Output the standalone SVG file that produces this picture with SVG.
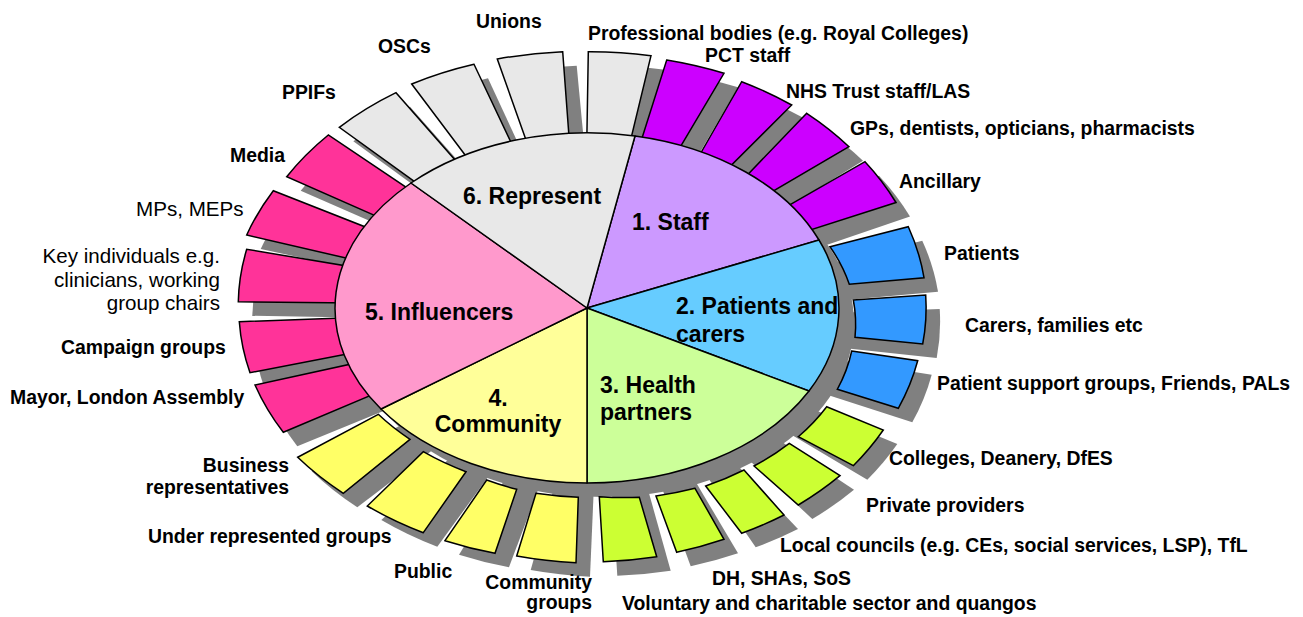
<svg xmlns="http://www.w3.org/2000/svg" width="1303" height="617" viewBox="0 0 1303 617">
<style>
.sh{fill:#808080}
.tab{stroke:#000;stroke-width:1.5;stroke-linejoin:miter}
.c1{fill:#CC00FF}.c2{fill:#3399FF}.c3{fill:#CCFF33}.c4{fill:#FFFF66}.c5{fill:#FF3399}.c6{fill:#E8E8E8}
.sec{stroke:#000;stroke-width:1.5;stroke-linejoin:round}
text{font-family:"Liberation Sans",Arial,Helvetica,sans-serif;fill:#000}
.lb{font-size:19.4px;font-weight:700}
.lr{font-size:20.6px}
.pl{font-size:23px;font-weight:700}
.e{text-anchor:end}
.m{text-anchor:middle}
</style>
<rect width="1303" height="617" fill="#fff"/>
<g id="shadows" class="sh" transform="translate(14,14)">
<path d="M587,308 L339.3,127.3 A344,256 0 0,1 396,92.7 Z"/>
<path d="M587,308 L411.7,84 A344,256 0 0,1 474,64.3 Z"/>
<path d="M587,308 L497.3,59 A344,256 0 0,1 562.7,51.7 Z"/>
<path d="M587,308 L588.3,51.7 A344,256 0 0,1 651,55.7 Z"/>
<path d="M587,308 L666.7,60 A344,256 0 0,1 724,73.3 Z"/>
<path d="M587,308 L741.7,81.7 A344,256 0 0,1 791.7,105 Z"/>
<path d="M587,308 L806.7,113.3 A344,256 0 0,1 849,146.7 Z"/>
<path d="M587,308 L865,161.7 A344,256 0 0,1 896,202.5 Z"/>
<path d="M587,308 L908.3,226.7 A344,256 0 0,1 924,277.7 Z"/>
<path d="M587,308 L925.7,295 A344,256 0 0,1 922.7,344 Z"/>
<path d="M587,308 L917.7,360.7 A344,256 0 0,1 898.3,408.3 Z"/>
<path d="M587,308 L883.3,430 A344,256 0 0,1 853.3,465.7 Z"/>
<path d="M587,308 L840,475.7 A344,256 0 0,1 798.3,505 Z"/>
<path d="M587,308 L784,515 A344,256 0 0,1 741.7,533.3 Z"/>
<path d="M587,308 L724,539.3 A344,256 0 0,1 676.7,552.3 Z"/>
<path d="M587,308 L656.7,556.7 A344,256 0 0,1 603.3,561.7 Z"/>
<path d="M587,308 L576,562.7 A344,256 0 0,1 516.7,556 Z"/>
<path d="M587,308 L495,553.3 A344,256 0 0,1 445,540.7 Z"/>
<path d="M587,308 L423.3,532.7 A344,256 0 0,1 367.3,506 Z"/>
<path d="M587,308 L343.3,493.3 A344,256 0 0,1 297.7,457.3 Z"/>
<path d="M587,308 L283.3,432.3 A344,256 0 0,1 255,385 Z"/>
<path d="M587,308 L250,372.7 A344,256 0 0,1 239.3,321.7 Z"/>
<path d="M587,308 L238.3,301.7 A344,256 0 0,1 246.7,249.3 Z"/>
<path d="M587,308 L246.7,235 A344,256 0 0,1 273.3,190.7 Z"/>
<path d="M587,308 L286.7,176.7 A344,256 0 0,1 328.3,135 Z"/>
<ellipse cx="587.5" cy="308.5" rx="252.5" ry="174.5"/>
</g>
<g id="connectors"></g>
<g id="tab-ppifs"><path class="tab c6" d="M425.7,189.6 L339.3,127.3 A344,256 0 0,1 396,92.7 L463.4,169.4 A262,182 0 0,0 425.7,189.6 Z"/><text class="lb" x="282" y="99">PPIFs</text></g>
<g id="tab-oscs"><path class="tab c6" d="M473.2,165.7 L411.7,84 A344,256 0 0,1 474,64.3 L516.2,153.4 A262,182 0 0,0 473.2,165.7 Z"/><text class="lb" x="378" y="53">OSCs</text></g>
<g id="tab-unions"><path class="tab c6" d="M530,151.3 L497.3,59 A344,256 0 0,1 562.7,51.7 L569.8,147.3 A262,182 0 0,0 530,151.3 Z"/><text class="lb" x="476" y="28">Unions</text></g>
<g id="tab-professional"><path class="tab c6" d="M586.7,147.3 L588.3,51.7 A344,256 0 0,1 651,55.7 L628.1,150.4 A262,182 0 0,0 586.7,147.3 Z"/><text class="lb" x="588" y="39.5">Professional bodies (e.g. Royal Colleges)</text></g>
<g id="tab-pct"><path class="tab c1" d="M638.8,148.2 L666.7,60 A344,256 0 0,1 724,73.3 L675.6,155 A262,182 0 0,0 638.8,148.2 Z"/><text class="lb" x="705" y="61.5">PCT staff</text></g>
<g id="tab-nhs"><path class="tab c1" d="M695.6,162 L741.7,81.7 A344,256 0 0,1 791.7,105 L723.2,173.4 A262,182 0 0,0 695.6,162 Z"/><text class="lb" x="786" y="98">NHS Trust staff/LAS</text></g>
<g id="tab-gps"><path class="tab c1" d="M741.6,181 L806.7,113.3 A344,256 0 0,1 849,146.7 L761.5,197.9 A262,182 0 0,0 741.6,181 Z"/><text class="lb" x="850" y="135">GPs, dentists, opticians, pharmacists</text></g>
<g id="tab-ancillary"><path class="tab c1" d="M778.4,211.4 L865,161.7 A344,256 0 0,1 896,202.5 L799.5,233.5 A262,182 0 0,0 778.4,211.4 Z"/><text class="lb" x="899" y="188">Ancillary</text></g>
<g id="tab-patients"><path class="tab c2" d="M830,246.7 L908.3,226.7 A344,256 0 0,1 924,277.7 L849.3,284.3 A262,182 0 0,0 830,246.7 Z"/><text class="lb" x="944" y="260">Patients</text></g>
<g id="tab-carers"><path class="tab c2" d="M853.3,300 L925.7,295 A344,256 0 0,1 922.7,344 L855,337.3 A262,182 0 0,0 853.3,300 Z"/><text class="lb" x="965" y="332">Carers, families etc</text></g>
<g id="tab-support"><path class="tab c2" d="M851.7,351 L917.7,360.7 A344,256 0 0,1 898.3,408.3 L837.3,389.3 A262,182 0 0,0 851.7,351 Z"/><text class="lb" x="937" y="390">Patient support groups, Friends, PALs</text></g>
<g id="tab-colleges"><path class="tab c3" d="M826.7,406.7 L883.3,430 A344,256 0 0,1 853.3,465.7 L798.3,436.7 A262,182 0 0,0 826.7,406.7 Z"/><text class="lb" x="889" y="465">Colleges, Deanery, DfES</text></g>
<g id="tab-private"><path class="tab c3" d="M789.3,443.3 L840,475.7 A344,256 0 0,1 798.3,505 L754,466 A262,182 0 0,0 789.3,443.3 Z"/><text class="lb" x="866" y="512">Private providers</text></g>
<g id="tab-local"><path class="tab c3" d="M744,470 L784,515 A344,256 0 0,1 741.7,533.3 L705.7,486 A262,182 0 0,0 744,470 Z"/><text class="lb" x="780" y="552">Local councils (e.g. CEs, social services, LSP), TfL</text></g>
<g id="tab-dh"><path class="tab c3" d="M695,488.3 L724,539.3 A344,256 0 0,1 676.7,552.3 L656,496 A262,182 0 0,0 695,488.3 Z"/><text class="lb" x="712" y="585">DH, SHAs, SoS</text></g>
<g id="tab-voluntary"><path class="tab c3" d="M639.3,497.3 L656.7,556.7 A344,256 0 0,1 603.3,561.7 L599.3,496.7 A262,182 0 0,0 639.3,497.3 Z"/><text class="lb" x="622" y="610">Voluntary and charitable sector and quangos</text></g>
<g id="tab-community-groups"><path class="tab c4" d="M578.3,497.3 L576,562.7 A344,256 0 0,1 516.7,556 L536,493.3 A262,182 0 0,0 578.3,497.3 Z"/><text class="lb e" x="592" y="589">Community</text><text class="lb e" x="592" y="609">groups</text></g>
<g id="tab-public"><path class="tab c4" d="M516.7,489.3 L495,553.3 A344,256 0 0,1 445,540.7 L486.7,480 A262,182 0 0,0 516.7,489.3 Z"/><text class="lb" x="394" y="578">Public</text></g>
<g id="tab-under"><path class="tab c4" d="M466,471.7 L423.3,532.7 A344,256 0 0,1 367.3,506 L423.3,451.7 A262,182 0 0,0 466,471.7 Z"/><text class="lb" x="148" y="543">Under represented groups</text></g>
<g id="tab-business"><path class="tab c4" d="M410,439.3 L343.3,493.3 A344,256 0 0,1 297.7,457.3 L378.3,414.3 A262,182 0 0,0 410,439.3 Z"/><text class="lb e" x="289" y="472">Business</text><text class="lb e" x="289" y="494">representatives</text></g>
<g id="tab-mayor"><path class="tab c5" d="M384.3,389.6 L283.3,432.3 A344,256 0 0,1 255,385 L367.4,360.4 A262,182 0 0,0 384.3,389.6 Z"/><text class="lb" x="10" y="404">Mayor, London Assembly</text></g>
<g id="tab-campaign"><path class="tab c5" d="M361.3,351.2 L250,372.7 A344,256 0 0,1 239.3,321.7 L355.2,317.5 A262,182 0 0,0 361.3,351.2 Z"/><text class="lb" x="61" y="354">Campaign groups</text></g>
<g id="tab-key"><path class="tab c5" d="M355.2,303.1 L238.3,301.7 A344,256 0 0,1 246.7,249.3 L361.3,268.4 A262,182 0 0,0 355.2,303.1 Z"/><text class="lr e" x="220" y="263">Key individuals e.g.</text><text class="lr e" x="220" y="287">clinicians, working</text><text class="lr e" x="220" y="310">group chairs</text></g>
<g id="tab-mps"><path class="tab c5" d="M364.4,262.3 L246.7,235 A344,256 0 0,1 273.3,190.7 L381.2,233.2 A262,182 0 0,0 364.4,262.3 Z"/><text class="lr" x="136" y="216">MPs, MEPs</text></g>
<g id="tab-media"><path class="tab c5" d="M390.4,222.4 L286.7,176.7 A344,256 0 0,1 328.3,135 L419.6,196.4 A262,182 0 0,0 390.4,222.4 Z"/><text class="lb" x="230" y="162">Media</text></g>
<g id="sector-staff"><path class="sec" fill="#CC99FF" d="M587,308 L635,136 A252,175 0 0,1 819,240 Z"/><text class="pl" x="632" y="230">1. Staff</text></g>
<g id="sector-patients"><path class="sec" fill="#66CCFF" d="M587,308 L819,240 A252,175 0 0,1 809,391 Z"/></g>
<g id="sector-health"><path class="sec" fill="#CCFF99" d="M587,308 L809,391 A252,175 0 0,1 587,483 Z"/><text class="pl" x="600" y="393">3. Health</text><text class="pl" x="600" y="420">partners</text></g>
<g id="sector-community"><path class="sec" fill="#FFFF99" d="M587,308 L587,483 A252,175 0 0,1 381,409 Z"/><text class="pl m" x="498" y="406">4.</text><text class="pl m" x="498" y="432">Community</text></g>
<g id="sector-influencers"><path class="sec" fill="#FF99CC" d="M587,308 L381,409 A252,175 0 0,1 411,183 Z"/><text class="pl" x="365" y="320">5. Influencers</text></g>
<g id="sector-represent"><path class="sec" fill="#E8E8E8" d="M587,308 L411,183 A252,175 0 0,1 635,136 Z"/><text class="pl" x="463" y="204">6. Represent</text></g>
<g id="sector-patients-label"><text class="pl" x="676" y="314">2. Patients and</text><text class="pl" x="676" y="342">carers</text></g>
</svg>
